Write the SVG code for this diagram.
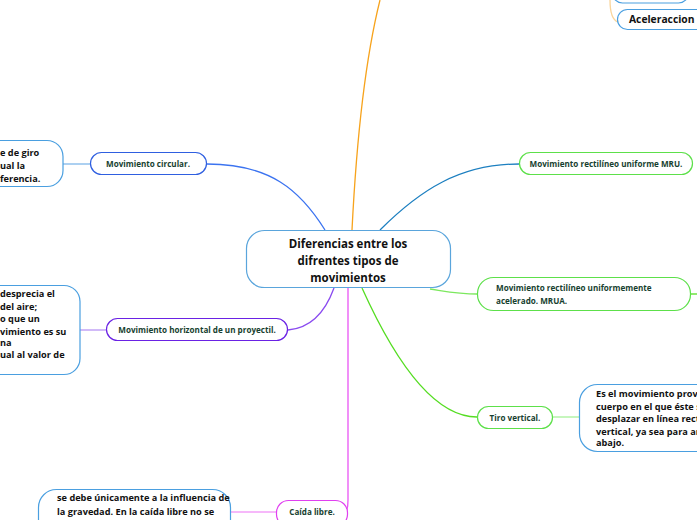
<svg xmlns="http://www.w3.org/2000/svg" width="697" height="520" viewBox="0 0 697 520">
<style>
text{font-family:"Open Sans","Noto Sans",sans-serif;font-weight:bold}
.lbl{fill:#173f30;font-size:8.1px}
.box{fill:#ffffff;stroke-width:1.2}
.txt{fill:#111111;font-size:9.2px}
.con{fill:none;stroke-width:1.3}
</style>
<rect width="697" height="520" fill="#ffffff"/>
<g id="connectors">
<path class="con" d="M352,230 C356,150 365,60 380,0" stroke="#f7a31c" stroke-width="2"/>
<path class="con" d="M610,0 C610,10 612,20 618,22" stroke="#f9d49a"/>
<path class="con" d="M207,164 C270,164 300,190 325,230" stroke="#3b73f0"/>
<path class="con" d="M63,164 L90,164" stroke="#7fb6ea"/>
<path class="con" d="M288,330 C312,328 326,310 334,288" stroke="#8a4af0"/>
<path class="con" d="M80,330 L106,330" stroke="#b995f5"/>
<path class="con" d="M348,288 L348,500 Q348,508 346,512" stroke="#ea55f5" stroke-width="2"/>
<path class="con" d="M230,512 L276,512" stroke="#f3a0f8"/>
<path class="con" d="M362,288 C390,350 430,417 477,417" stroke="#55dd22" stroke-width="1.6"/>
<path class="con" d="M552,417 L579,417" stroke="#a8f29a"/>
<path class="con" d="M380,230 C420,190 460,164 519,164" stroke="#1c7fc0" stroke-width="1.6"/>
<path class="con" d="M430,289 C450,292 460,294 477,294" stroke="#7ce85e"/>
<path class="con" d="M690,294 L697,294" stroke="#55dd22" stroke-width="2.5"/>
</g>
<g id="central">
<rect class="box" x="246.5" y="230.5" width="204" height="57" rx="18" stroke="#5aa5dc"/>
<text x="348" y="248" text-anchor="middle" font-size="11.5" fill="#111">Diferencias entre los</text>
<text x="348" y="265" text-anchor="middle" font-size="11.5" fill="#111">difrentes tipos de</text>
<text x="348" y="282" text-anchor="middle" font-size="11.5" fill="#111">movimientos</text>
</g>
<g id="circular">
<rect class="box" x="90.5" y="152.5" width="116" height="22" rx="11" stroke="#2f5fe0"/>
<text class="lbl" x="148" y="167" text-anchor="middle">Movimiento circular.</text>
</g>
<g id="circular-text">
<rect class="box" x="-30" y="140.5" width="93" height="46" rx="16" stroke="#4a9fe0"/>
<text class="txt" x="0" y="156">e de giro</text>
<text class="txt" x="0" y="169">ual la</text>
<text class="txt" x="0" y="182">ferencia.</text>
</g>
<g id="horizontal">
<rect class="box" x="106.5" y="318.5" width="181" height="22" rx="11" stroke="#6a22e4"/>
<text class="lbl" x="197" y="333" text-anchor="middle">Movimiento horizontal de un proyectil.</text>
</g>
<g id="horizontal-text">
<rect class="box" x="-30" y="285.5" width="110" height="89" rx="16" stroke="#4a9fe0"/>
<text class="txt" x="0" y="297">desprecia el</text>
<text class="txt" x="0" y="309.5">del aire;</text>
<text class="txt" x="0" y="322">o que un</text>
<text class="txt" x="0" y="334.5">vimiento es su</text>
<text class="txt" x="0" y="346">na</text>
<text class="txt" x="0" y="358">ual al valor de</text>
</g>
<g id="caida">
<rect class="box" x="276.5" y="500.5" width="71" height="26" rx="12" stroke="#e040f0"/>
<text class="lbl" x="312" y="515" text-anchor="middle">Caída libre.</text>
</g>
<g id="caida-text">
<rect class="box" x="38.5" y="489.5" width="192" height="50" rx="18" stroke="#4a9fe0"/>
<text class="txt" x="57" y="501">se debe únicamente a la influencia de</text>
<text class="txt" x="57" y="515">la gravedad. En la caída libre no se</text>
</g>
<g id="tiro">
<rect class="box" x="477.5" y="406.5" width="75" height="22" rx="11" stroke="#5de04a"/>
<text class="lbl" x="515" y="421" text-anchor="middle">Tiro vertical.</text>
</g>
<g id="tiro-text">
<rect class="box" x="579.5" y="384.5" width="150" height="67" rx="18" stroke="#4a9fe0"/>
<text class="txt" x="596" y="397">Es el movimiento provo</text>
<text class="txt" x="596" y="409.5">cuerpo en el que éste s</text>
<text class="txt" x="596" y="422">desplazar en línea rect</text>
<text class="txt" x="596" y="434.5">vertical, ya sea para ar</text>
<text class="txt" x="596" y="446">abajo.</text>
</g>
<g id="mru">
<rect class="box" x="519.5" y="152.5" width="173" height="22" rx="11" stroke="#5de04a"/>
<text class="lbl" x="606" y="167" text-anchor="middle">Movimiento rectilíneo uniforme MRU.</text>
</g>
<g id="mrua">
<rect class="box" x="477.5" y="277.5" width="213" height="33" rx="16" stroke="#5de04a"/>
<text class="lbl" x="496" y="291">Movimiento rectilíneo uniformemente</text>
<text class="lbl" x="496" y="304">acelerado. MRUA.</text>
</g>
<g id="top-box">
<rect class="box" x="612.5" y="-20" width="76" height="23" rx="10" stroke="#4a9fe0"/>
</g>
<g id="aceleraccion">
<rect class="box" x="617.5" y="9.5" width="100" height="20" rx="10" stroke="#4a9fe0"/>
<text class="txt" x="629" y="23" font-size="10.3px" style="font-size:10.3px">Aceleraccion</text>
</g>
</svg>
